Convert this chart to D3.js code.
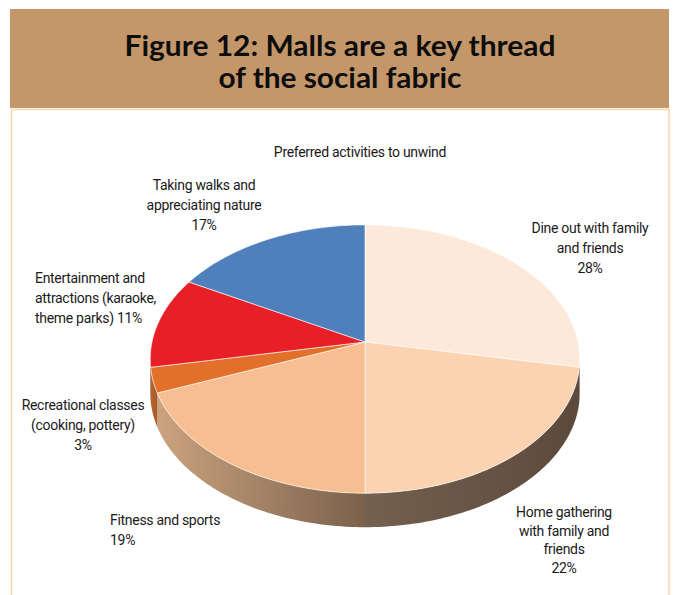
<!DOCTYPE html>
<html>
<head>
<meta charset="utf-8">
<script src="https://cdn.jsdelivr.net/npm/d3@7"></script>
<style>
  body { margin: 0; background: #fff; }
  svg { display: block; }
  .lbl { font-family: Roboto, "Open Sans", sans-serif; font-size: 14px; letter-spacing: -0.3px; fill: #1a1a1a; }
</style>
</head>
<body>
<div id="chart"></div>
<script>
// ---- data ----
const categories = [
  "Dine out with family and friends",
  "Home gathering with family and friends",
  "Fitness and sports",
  "Recreational classes (cooking, pottery)",
  "Entertainment and attractions (karaoke, theme parks)",
  "Taking walks and appreciating nature",
];
const shares = [28, 22, 19, 3, 11, 17];
const sliceColors = ["#fde9da", "#fbd3b1", "#f6be91", "#e2702b", "#e81f26", "#4f80bb"];
const titleLines = ["Figure 12: Malls are a key thread", "of the social fabric"];
const subtitle = "Preferred activities to unwind";
const labelLines = [
  ["Dine out with family", "and friends", "28%"],
  ["Home gathering", "with family and", "friends", "22%"],
  ["Fitness and sports", "19%"],
  ["Recreational classes", "(cooking, pottery)", "3%"],
  ["Entertainment and", "attractions (karaoke,", "theme parks) 11%"],
  ["Taking walks and", "appreciating nature", "17%"],
];

const width = 673, height = 595;
const svg = d3.select("#chart").append("svg")
  .attr("width", width).attr("height", height);

// header band + frame
svg.append("rect").attr("x", 10).attr("y", 9).attr("width", 659).attr("height", 99)
  .attr("fill", "#c4976b");
svg.append("path")
  .attr("d", "M11.5,595 V109.5 H669 V595")
  .attr("fill", "none").attr("stroke", "#fdd6a4").attr("stroke-width", 1.5);

const titleFit = [431, 243];
titleLines.forEach((t, i) => {
  svg.append("text")
    .attr("x", 340).attr("y", 56 + i * 32)
    .attr("text-anchor", "middle")
    .attr("font-family", "Lato, Roboto, sans-serif")
    .attr("font-weight", 700)
    .attr("font-size", 28.5)
    .attr("fill", "#0d0d0d")
    .attr("textLength", titleFit[i])
    .attr("lengthAdjust", "spacingAndGlyphs")
    .text(t);
});

svg.append("text").attr("class", "lbl")
  .attr("x", 360).attr("y", 157).attr("text-anchor", "middle")
  .text(subtitle);

// ---- perspective pie ----
const cx = 365, cy = 342;
const tilt = 0.127;     // perspective strength
const depth = 34;       // wall thickness in px
const xScale = d3.scaleLinear().domain([-1, 1]).range([cx - 213, cx + 213]);
const yScale = d3.scaleLinear().domain([-1, 1]).range([cy - 132, cy + 132]);

function project(a, r) {
  const u = r * Math.sin(a), w = -r * Math.cos(a);
  const den = 1 - tilt * w;
  return [xScale(u / den), yScale(w / den)];
}

function rimPoints(a0, a1) {
  const n = Math.max(2, Math.ceil((a1 - a0) / 0.02));
  return d3.range(n + 1).map((i) => project(a0 + (a1 - a0) * i / n, 1));
}

const pie = d3.pie().sort(null).value((d) => d)
  .startAngle(0).endAngle(2 * Math.PI);
const arcs = pie(shares);

// visible wall range: between rightmost and leftmost rim points
const aRight = Math.PI / 2 + Math.asin(tilt);
const aLeft = 3 * Math.PI / 2 - Math.asin(tilt);

const defs = svg.append("defs");
const wallGrad = [
  null,
  ["#74604e", "#5b4a3c"],
  ["#cba37f", "#7b614c"],
  ["#b8652c", "#a9592a"],
  null,
  null,
];
const wallColor = ["#5b4a3c", null, null, null, "#5b4a3c", "#5b4a3c"];

const line = d3.line();
const walls = svg.append("g");
arcs.forEach((d, i) => {
  const a0 = Math.max(d.startAngle, aRight);
  const a1 = Math.min(d.endAngle, aLeft);
  if (a1 <= a0) return;
  const top = rimPoints(a0, a1);
  const bottom = top.map(([x, y]) => [x, y + depth]).reverse();
  let fill = wallColor[i];
  if (wallGrad[i]) {
    const x0 = d3.min(top, (p) => p[0]), x1 = d3.max(top, (p) => p[0]);
    const g = defs.append("linearGradient").attr("id", "wall" + i)
      .attr("gradientUnits", "userSpaceOnUse")
      .attr("x1", x0).attr("x2", x1).attr("y1", 0).attr("y2", 0);
    g.append("stop").attr("offset", 0).attr("stop-color", wallGrad[i][0]);
    g.append("stop").attr("offset", 1).attr("stop-color", wallGrad[i][1]);
    fill = `url(#wall${i})`;
  }
  walls.append("path")
    .attr("d", line(top.concat(bottom)) + "Z")
    .attr("fill", fill);
});

const tops = svg.append("g");
arcs.forEach((d, i) => {
  const pts = [[cx, cy]].concat(rimPoints(d.startAngle, d.endAngle));
  tops.append("path")
    .attr("d", line(pts) + "Z")
    .attr("fill", sliceColors[i])
    .attr("stroke", "#fff")
    .attr("stroke-width", 0.6)
    .attr("stroke-linejoin", "round");
});

// ---- labels ----
const labelPos = [
  { x: 590, y: 233, anchor: "middle", gap: 20 },
  { x: 564, y: 517, anchor: "middle", gap: 18.5 },
  { x: 110, y: 525, anchor: "start", gap: 20 },
  { x: 83, y: 410, anchor: "middle", gap: 20 },
  { x: 35, y: 283, anchor: "start", gap: 20 },
  { x: 204, y: 190, anchor: "middle", gap: 20 },
];
labelLines.forEach((lines, i) => {
  const p = labelPos[i];
  const t = svg.append("text").attr("class", "lbl")
    .attr("text-anchor", p.anchor);
  lines.forEach((s, j) => {
    t.append("tspan").attr("x", p.x).attr("y", p.y + j * p.gap).text(s);
  });
});
</script>
</body>
</html>
